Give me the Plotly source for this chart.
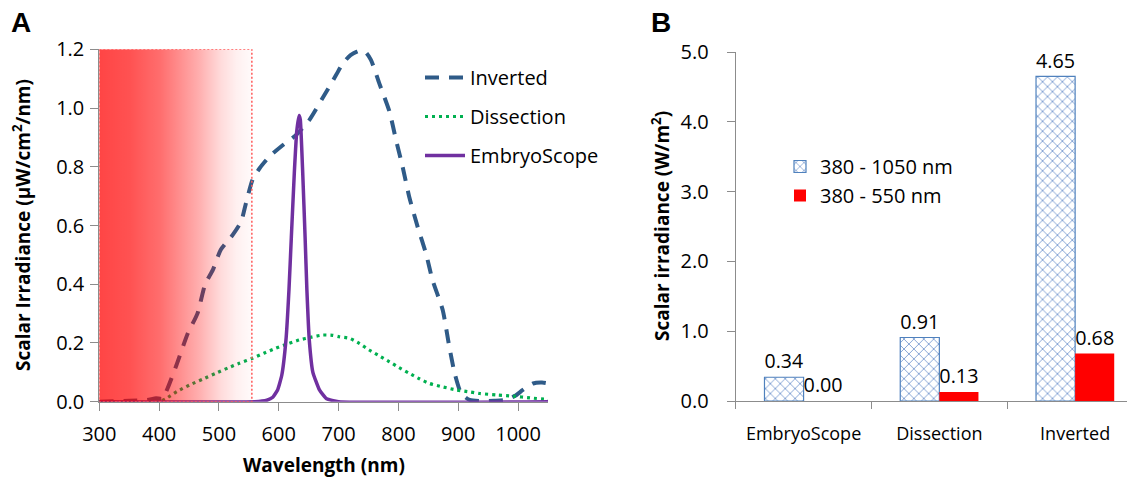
import plotly.graph_objects as go

W, H = 1135, 480
OFF = 8  # page body margin in the browser


def px(p):
    return (p - OFF) / W


def py(p):
    return 1 - (p - OFF) / H


# ---------------- Panel A data ----------------
inv_x = [300, 350, 380, 395, 405, 414, 429, 448, 464, 477, 490, 503, 523, 537, 545, 556, 568, 584, 607,
         629, 651, 673, 696, 707, 720, 735, 745, 754, 768, 785, 796, 807, 818, 832, 846, 857, 874, 885,
         894, 905, 919, 941, 960, 980, 995, 1008, 1025, 1040, 1050]
inv_y = [0, 0.003, 0.006, 0.012, 0.01, 0.045, 0.125, 0.233, 0.30, 0.40, 0.45, 0.517, 0.568, 0.613, 0.675,
         0.755, 0.795, 0.834, 0.874, 0.908, 0.959, 1.033, 1.113, 1.152, 1.18, 1.195, 1.19, 1.164, 1.084,
         0.988, 0.891, 0.80, 0.698, 0.596, 0.505, 0.414, 0.312, 0.187, 0.097, 0.028, 0.006, 0.002, 0.003,
         0.006, 0.02, 0.04, 0.062, 0.065, 0.062]

dis_x = [300, 400, 411, 430, 451, 473, 495, 515, 534, 556, 575, 595, 615, 634, 655, 673, 690, 701, 718,
         735, 751, 768, 785, 801, 818, 835, 852, 875, 897, 920, 936, 965, 992, 1020, 1047, 1050]
dis_y = [0, 0, 0.01, 0.035, 0.057, 0.077, 0.097, 0.115, 0.131, 0.148, 0.165, 0.182, 0.197, 0.21, 0.22,
         0.227, 0.226, 0.221, 0.216, 0.198, 0.176, 0.156, 0.136, 0.116, 0.097, 0.078, 0.062, 0.05, 0.04,
         0.033, 0.028, 0.023, 0.019, 0.013, 0.008, 0.007]

emb_x = [300, 560, 580, 590, 598, 605, 612, 617, 621, 626, 630, 634, 636, 640, 644, 647, 651, 657, 668,
         680, 700, 1050]
emb_y = [0, 0, 0.005, 0.015, 0.04, 0.09, 0.21, 0.38, 0.56, 0.78, 0.92, 0.975, 0.96, 0.78, 0.56, 0.38,
         0.21, 0.10, 0.04, 0.01, 0, 0]

band_nm = [300, 555]        # highlighted blue-light band
band_top = 1.2

a_xticks = [300, 400, 500, 600, 700, 800, 900, 1000]
a_yticks = [0, 0.2, 0.4, 0.6, 0.8, 1.0, 1.2]

# ---------------- Panel B data ----------------
instruments = ["EmbryoScope", "Dissection", "Inverted"]
full_range = [0.34, 0.91, 4.65]
blue_range = [0.00, 0.13, 0.68]
b_yticks = [0, 1, 2, 3, 4, 5]

FONT = "Open Sans"
AXCOL = "#8c8c8c"

fig = go.Figure()

fig.add_trace(go.Scatter(
    x=inv_x, y=inv_y, name="Inverted", mode="lines", legend="legend", legendgroup="a1",
    line=dict(color="#2f5b88", width=4, dash="14px,10px", shape="spline", smoothing=0.6),
    xaxis="x", yaxis="y"))
fig.add_trace(go.Scatter(
    x=dis_x, y=dis_y, name="Dissection", mode="lines", legend="legend", legendgroup="a2",
    line=dict(color="#00b050", width=3.2, dash="3px,4px", shape="spline", smoothing=0.6),
    xaxis="x", yaxis="y"))
fig.add_trace(go.Scatter(
    x=emb_x, y=emb_y, name="EmbryoScope", mode="lines", legend="legend", legendgroup="a3",
    line=dict(color="#7030a0", width=3.5, shape="spline", smoothing=0.4),
    xaxis="x", yaxis="y"))

# gradient band
fig.add_trace(go.Scatter(
    x=[band_nm[0], band_nm[1], band_nm[1], band_nm[0], band_nm[0]],
    y=[band_top, band_top, 0, 0, band_top],
    mode="lines", fill="toself", showlegend=False, hoverinfo="skip",
    line=dict(color="#ff5a5a", width=1.5, dash="2px,2px"),
    fillgradient=dict(type="horizontal", colorscale=[
        [0.0, "rgba(255,0,0,0.73)"], [0.2, "rgba(255,0,0,0.68)"], [0.4, "rgba(255,0,0,0.57)"],
        [0.55, "rgba(255,0,0,0.42)"], [0.65, "rgba(255,0,0,0.32)"], [0.8, "rgba(255,0,0,0.14)"],
        [0.9, "rgba(255,0,0,0.06)"], [1.0, "rgba(255,0,0,0.02)"]]),
    xaxis="x", yaxis="y"))

# bars
fig.add_trace(go.Bar(
    x=instruments, y=full_range, name="380 - 1050 nm", legend="legend2",
    marker=dict(color="white", line=dict(color="#4f81bd", width=1.2),
                pattern=dict(shape="x", fgcolor="#6f93cc", bgcolor="white", size=7, solidity=0.22)),
    texttemplate="%{y:.2f}", textposition="outside", cliponaxis=False,
    textfont=dict(family=FONT, size=20, color="black"),
    xaxis="x2", yaxis="y2"))
fig.add_trace(go.Bar(
    x=instruments, y=blue_range, name="380 - 550 nm", legend="legend2",
    marker=dict(color="#ff0000", line=dict(width=0)),
    texttemplate="%{y:.2f}", textposition="outside", cliponaxis=False,
    textfont=dict(family=FONT, size=20, color="black"),
    xaxis="x2", yaxis="y2"))

axis_common = dict(showgrid=False, zeroline=False, showline=True, linecolor=AXCOL, linewidth=1,
                   ticks="outside", tickcolor=AXCOL, ticklen=8, tickwidth=1, automargin=False)


def ann(text, x, y, size, angle=0, family=FONT):
    return dict(text=text, x=px(x), y=py(y), xref="paper", yref="paper", showarrow=False,
                xanchor="center", yanchor="middle", textangle=angle,
                font=dict(family=family, size=size, color="black"))


fig.update_layout(
    template="none",
    width=W, height=H, margin=dict(l=0, r=0, t=0, b=0, autoexpand=False),
    paper_bgcolor="white", plot_bgcolor="white",
    font=dict(family=FONT, size=20, color="black"),
    barmode="group", bargap=0.424, bargroupgap=0,
    xaxis=dict(domain=[px(99.3), px(548)], range=[300, 1050], tickvals=a_xticks,
               ticklabelstandoff=6, tickfont=dict(size=20), anchor="y", **axis_common),
    yaxis=dict(domain=[py(401.7), py(49.3)], range=[0, 1.2], tickvals=a_yticks,
               tickformat=".1f", ticklabelstandoff=2, tickfont=dict(size=20), anchor="x", **axis_common),
    xaxis2=dict(domain=[px(735.7), 1.0], range=[-0.5, 2.5], tickson="boundaries",
                tickfont=dict(size=18), ticklabelstandoff=16, anchor="y2",
                **{**axis_common, "ticklen": 7}),
    yaxis2=dict(domain=[py(401), py(52)], range=[0, 5], tickvals=b_yticks,
                tickformat=".1f", ticklabelstandoff=14, tickfont=dict(size=20), anchor="x2", **axis_common),
    legend=dict(x=px(420), y=py(58), xanchor="left", yanchor="top", bgcolor="rgba(0,0,0,0)",
                font=dict(size=20), itemwidth=40, traceorder="grouped", tracegroupgap=10,
                itemclick=False),
    legend2=dict(x=px(780), y=py(147), xanchor="left", yanchor="top", bgcolor="rgba(0,0,0,0)",
                 font=dict(size=20), itemwidth=30, traceorder="normal"),
    annotations=[
        ann("<b>A</b>", 21, 22, 28, family="Liberation Sans"),
        ann("<b>B</b>", 661, 22, 28, family="Liberation Sans"),
        ann("<b>Scalar Irradiance (µW/cm<sup>2</sup>/nm)</b>", 22, 225, 19, angle=-90),
        ann("<b>Wavelength (nm)</b>", 324, 465, 19),
        ann("<b>Scalar irradiance (W/m<sup>2</sup>)</b>", 661, 226, 19, angle=-90),
    ],
)

fig.write_html("out.html")
